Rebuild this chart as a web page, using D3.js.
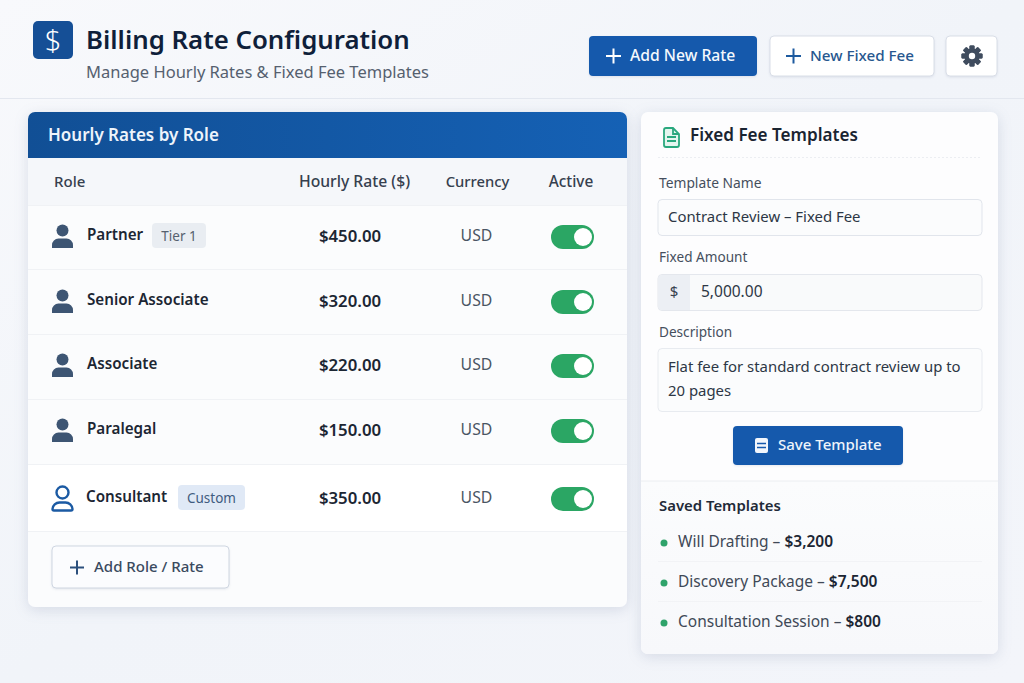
<!DOCTYPE html>
<html>
<head>
<meta charset="utf-8">
<title>Billing Rate Configuration</title>
<script src="https://cdn.jsdelivr.net/npm/d3@7"></script>
<style>
  html, body { margin: 0; padding: 0; overflow: hidden; background: #f3f5fa; }
  svg { display: block; font-family: "Noto Sans", sans-serif; }
  .card { filter: drop-shadow(0 3px 7px rgba(70, 90, 130, 0.16)); }
  .btn { filter: drop-shadow(0 1px 1px rgba(70, 90, 130, 0.12)); }
</style>
</head>
<body>
<div id="chart"></div>
<script>
const roles = ['Partner', 'Senior Associate', 'Associate', 'Paralegal', 'Consultant'];
const rates = [450, 320, 220, 150, 350];
const currencies = ['USD', 'USD', 'USD', 'USD', 'USD'];
const active = [true, true, true, true, true];
const badges = ['Tier 1', '', '', '', 'Custom'];
const columns = ['Role', 'Hourly Rate ($)', 'Currency', 'Active'];
const savedNames = ['Will Drafting', 'Discovery Package', 'Consultation Session'];
const savedAmounts = [3200, 7500, 800];

const svg = d3.select('#chart').append('svg').attr('width', 1024).attr('height', 683);
const defs = svg.append('defs');

function gradient(id, x2, y2, stops) {
  const g = defs.append('linearGradient').attr('id', id)
    .attr('x1', 0).attr('y1', 0).attr('x2', x2).attr('y2', y2);
  stops.forEach((c, i) => g.append('stop').attr('offset', i / (stops.length - 1)).attr('stop-color', c));
}
gradient('bg', 1, 1, ['#f8f9fc', '#f1f4f9', '#f3f5fa']);
gradient('head', 1, 0, ['#114f95', '#1561b5']);
gradient('lower', 0, 1, ['#fbfcfd', '#f7f8fb']);

function box(parent, x0, y0, x1, y1, r, fill, stroke) {
  return parent.append('rect')
    .attr('x', x0).attr('y', y0)
    .attr('width', x1 - x0).attr('height', y1 - y0)
    .attr('rx', r)
    .attr('fill', fill)
    .attr('stroke', stroke || 'none');
}

function label(parent, x, y, str, size, weight, color, anchor) {
  return parent.append('text')
    .attr('x', x).attr('y', y)
    .attr('font-size', size)
    .attr('font-weight', weight)
    .attr('fill', color)
    .attr('text-anchor', anchor || 'start')
    .text(str);
}

function rule(parent, x0, x1, y, color, dash) {
  parent.append('line')
    .attr('x1', x0).attr('x2', x1).attr('y1', y).attr('y2', y)
    .attr('stroke', color)
    .attr('stroke-dasharray', dash || null);
}

function plus(parent, cx, cy, size, color) {
  parent.append('path')
    .attr('d', `M${cx - size},${cy}H${cx + size}M${cx},${cy - size}V${cy + size}`)
    .attr('stroke', color)
    .attr('stroke-width', 2)
    .attr('fill', 'none');
}

// Page background and header
box(svg, 0, 0, 1024, 683, 0, 'url(#bg)');
rule(svg, 0, 1024, 98.5, '#e3e7ef');

box(svg, 33, 21, 73, 59, 5, '#154f96');
label(svg, 53, 51, '$', 29, 300, '#ffffff', 'middle');
label(svg, 86, 49, 'Billing Rate Configuration', 25.8, 600, '#0f1f3a');
label(svg, 86, 78, 'Manage Hourly Rates & Fixed Fee Templates', 16.5, 400, '#55606f');

// Top buttons
const topBar = svg.append('g');
box(topBar.append('g').attr('class', 'btn'), 589, 36, 757, 76, 4, '#1559ac');
plus(topBar, 613.5, 56, 7.5, '#ffffff');
label(topBar, 630, 61, 'Add New Rate', 15.7, 500, '#f4f8fd');
box(topBar.append('g').attr('class', 'btn'), 770, 36, 934, 76, 4, '#ffffff', '#d9dee7');
plus(topBar, 793.5, 56, 7.5, '#1d5a9f');
label(topBar, 810, 61, 'New Fixed Fee', 15.2, 500, '#27578f');
box(topBar.append('g').attr('class', 'btn'), 946, 36, 997, 76, 4, '#ffffff', '#d9dee7');

const gear = topBar.append('g').attr('transform', 'translate(972,56)');
gear.selectAll('rect').data(d3.range(8)).join('rect')
  .attr('x', -2.5).attr('y', -10.5).attr('width', 5).attr('height', 21).attr('rx', 1)
  .attr('fill', '#3f4c5e')
  .attr('transform', d => `rotate(${d * 45})`);
gear.append('circle').attr('r', 7.5).attr('fill', '#3f4c5e');
gear.append('circle').attr('r', 3.2).attr('fill', '#ffffff');

// Hourly rates card
const left = svg.append('g');
box(left.append('g').attr('class', 'card'), 28, 112, 627, 607, 7, '#fbfcfd');
left.append('path')
  .attr('d', 'M28,158V119a7,7 0 0 1 7,-7H620a7,7 0 0 1 7,7V158Z')
  .attr('fill', 'url(#head)');
label(left, 48, 141, 'Hourly Rates by Role', 17, 600, '#eef4fb');

left.append('rect').attr('x', 28).attr('y', 158).attr('width', 599).attr('height', 47).attr('fill', '#f5f7fa');

const colX = d3.scaleOrdinal().domain(columns).range([54, 354.5, 477.5, 571]);
const colSize = [15, 15.7, 14.8, 15.4];
columns.forEach((c, i) => {
  label(left, colX(c), 187, c, colSize[i], 500, '#36404e', i ? 'middle' : 'start');
});

const rowCenter = d3.scaleOrdinal().domain(roles).range([235, 300, 364, 429, 497]);
const rowEdges = [205, 269, 334, 399, 464, 531];
const money = d3.format('$,.2f');

left.append('rect').attr('x', 28).attr('y', 464).attr('width', 599).attr('height', 67).attr('fill', '#ffffff');
rowEdges.forEach(y => rule(left, 28, 627, y + 0.5, '#f0f2f5'));

function person(parent, cy, outlined) {
  const g = parent.append('g').attr('transform', `translate(62.5,${cy})`);
  if (outlined) {
    g.append('circle').attr('cy', -4.5).attr('r', 6)
      .attr('fill', 'none').attr('stroke', '#1b5aa3').attr('stroke-width', 2.4);
    g.append('path').attr('d', 'M-8.5,13.5H8.5a1.5,1.5 0 0 0 1.5,-1.5a7,7 0 0 0 -7,-6.5H-3a7,7 0 0 0 -7,6.5a1.5,1.5 0 0 0 1.5,1.5Z')
      .attr('fill', 'none').attr('stroke', '#1b5aa3').attr('stroke-width', 2.4)
      .attr('stroke-linejoin', 'round');
  } else {
    g.append('circle').attr('cy', -4.5).attr('r', 6).attr('fill', '#3d5573');
    g.append('path').attr('d', 'M-10.5,13V10a6.5,6.5 0 0 1 6.5,-6.5H4a6.5,6.5 0 0 1 6.5,6.5V13Z').attr('fill', '#3d5573');
  }
}

const badgeFill = d3.scaleOrdinal().domain(['Tier 1', 'Custom']).range(['#e9edf2', '#e0e9f6']);
const badgeText = d3.scaleOrdinal().domain(['Tier 1', 'Custom']).range(['#56616f', '#3f5c80']);

roles.forEach((role, i) => {
  const cy = rowCenter(role);
  const row = left.append('g');
  const custom = badges[i] === 'Custom';
  person(row, cy, custom);
  label(row, custom ? 86 : 87, cy + 5, role, 15.2, 600, '#1c2633');
  if (badges[i]) {
    const x0 = custom ? 178 : 152;
    const x1 = custom ? 245 : 206;
    box(row, x0, cy - 12, x1, cy + 13, 4, badgeFill(badges[i]));
    label(row, (x0 + x1) / 2, cy + 5.5, badges[i], 13.5, 400, badgeText(badges[i]), 'middle');
  }
  label(row, colX(columns[1]) - 4.5, cy + 6.5, money(rates[i]), 16.8, 600, '#1c2633', 'middle');
  label(row, colX(columns[2]) - 1, cy + 6, currencies[i], 15.8, 400, '#4a5563', 'middle');

  // toggle
  const tx = colX(columns[3]) + 1.5;
  const ty = cy + 2;
  row.append('rect')
    .attr('x', tx - 21.5).attr('y', ty - 12)
    .attr('width', 43).attr('height', 24).attr('rx', 12)
    .attr('fill', active[i] ? '#2ba664' : '#c6ccd5');
  row.append('circle')
    .attr('cx', active[i] ? tx + 10.5 : tx - 10.5).attr('cy', ty)
    .attr('r', 9).attr('fill', '#ffffff');
});

box(left.append('g').attr('class', 'btn'), 52, 546, 229, 588, 4, '#fbfcfe', '#cfd6e1');
plus(left, 77, 567.5, 7, '#2b4f7c');
label(left, 94, 572, 'Add Role / Rate', 15, 500, '#3a4a5e');

// Fixed fee card
const right = svg.append('g');
box(right.append('g').attr('class', 'card'), 641, 112, 998, 654, 7, '#fdfdfe');
label(right, 690, 141, 'Fixed Fee Templates', 17.1, 600, '#1a2431');

const doc = right.append('g').attr('fill', 'none').attr('stroke', '#2aa87e').attr('stroke-width', 1.8);
doc.append('path')
  .attr('d', 'M664,130a2,2 0 0 1 2,-2h7l6,6v11a2,2 0 0 1 -2,2h-11a2,2 0 0 1 -2,-2Z')
  .attr('fill', '#e4f6ef');
doc.append('path').attr('d', 'M667,137h9M667,141h9M673,128v6h6');
rule(right, 658, 982, 157.5, '#eceef2', '2 2');

label(right, 659, 188, 'Template Name', 13.8, 400, '#454f5d');
box(right, 658, 199.5, 982, 235.5, 4, '#fbfcfd', '#e1e5ec');
label(right, 668, 222, 'Contract Review – Fixed Fee', 14.9, 400, '#2d3745');

label(right, 659, 262, 'Fixed Amount', 13.6, 400, '#454f5d');
box(right, 658, 274.5, 982, 310.5, 4, '#f9fafb', '#e4e7ed');
right.append('path')
  .attr('d', 'M690,275H662a4,4 0 0 0 -4,4V306a4,4 0 0 0 4,4H690Z')
  .attr('fill', '#eceff4');
label(right, 674, 297, '$', 15, 400, '#36404e', 'middle');
label(right, 701, 297, '5,000.00', 15.5, 400, '#2d3745');

label(right, 659, 337, 'Description', 13.6, 400, '#454f5d');
box(right, 658, 348.5, 982, 411.5, 4, '#fbfcfd', '#e8ebf0');
label(right, 668, 372, 'Flat fee for standard contract review up to', 14.9, 400, '#2d3745');
label(right, 668, 396, '20 pages', 14.9, 400, '#2d3745');

box(right.append('g').attr('class', 'btn'), 733, 426, 903, 465, 4, '#1559ac');
const disk = right.append('g');
box(disk, 755, 438, 768, 453, 2, '#f2f6fc');
disk.append('path').attr('d', 'M757,443.5h9M757,447.5h9').attr('stroke', '#1559ac').attr('stroke-width', 1.4);
label(right, 778, 450, 'Save Template', 15, 500, '#eef4fb');

right.append('path')
  .attr('d', 'M641,481H998V647a7,7 0 0 1 -7,7H648a7,7 0 0 1 -7,-7Z')
  .attr('fill', 'url(#lower)');
rule(right, 641, 998, 481, '#eceef2');
label(right, 659, 511, 'Saved Templates', 14.9, 600, '#1f2a38');

const savedY = d3.scaleLinear().domain([0, savedNames.length - 1]).range([547, 627]);
savedNames.forEach((name, i) => {
  const y = savedY(i);
  right.append('circle').attr('cx', 664).attr('cy', y - 4).attr('r', 3.5).attr('fill', '#2fa36b');
  const t = label(right, 678, y, `${name} – `, 15.5, 400, '#3f4957');
  t.append('tspan').attr('font-weight', 600).attr('fill', '#1c2633').text(d3.format('$,')(savedAmounts[i]));
  if (i < savedNames.length - 1) rule(right, 658, 982, y + 14.5, '#f2f3f6');
});
</script>
</body>
</html>
